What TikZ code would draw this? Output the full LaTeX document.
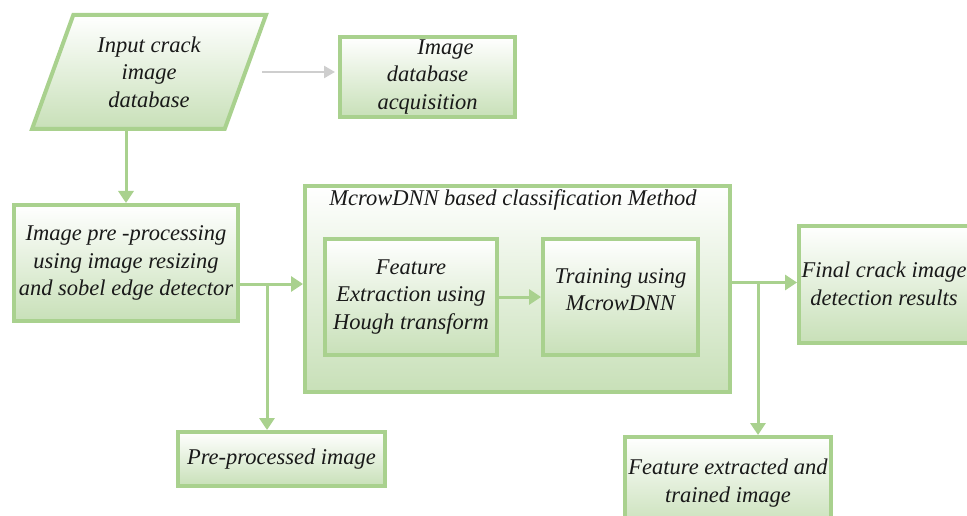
\documentclass[tikz,border=0pt]{standalone}
\usepackage{fontspec}
\setmainfont{Liberation Serif}
\usetikzlibrary{shapes.geometric,arrows.meta}

\definecolor{boxline}{RGB}{169,209,142}
\definecolor{boxfill}{RGB}{200,224,184}
\definecolor{grayline}{RGB}{206,206,206}
\definecolor{txt}{RGB}{25,25,25}

\tikzset{
  box/.style={draw=boxline, line width=4pt, top color=white, bottom color=boxfill,
    text=txt, align=center, inner sep=2pt,
    font=\fontsize{22.5}{27.5}\selectfont\itshape},
  arr/.style={draw=boxline, line width=3pt, -{Triangle[width=15pt,length=12pt]}},
  grayarr/.style={draw=grayline, line width=2.5pt, -{Triangle[width=12pt,length=11pt]}}
}

\begin{document}
\begin{tikzpicture}[x=1pt,y=-1pt]
\useasboundingbox (0,0) rectangle (967,516);

% top row
\node[box, trapezium, trapezium left angle=68.7, trapezium right angle=111.3,
  trapezium stretches=true, minimum width=234, minimum height=114]
  (input) at (149,72) {Input crack\\image\\database};
\node[box, minimum width=175, minimum height=80] (acq) at (427.5,77)
  {\hspace*{36pt}Image\\database\\acquisition};

% middle row
\node[box, minimum width=224, minimum height=116] (pre) at (126,263)
  {Image pre -processing\\using image resizing\\and sobel edge detector};
\node[box, minimum width=425, minimum height=206] (method) at (517.5,289) {};
\node[text=txt, font=\fontsize{22.5}{27.5}\selectfont\itshape] (title) at (513,200)
  {McrowDNN based classification Method};
\node[box, minimum width=172, minimum height=116] (fext) at (411,297)
  {Feature\\Extraction using\\Hough transform};
\node[box, minimum width=155, minimum height=116] (train) at (620.5,297)
  {Training using\\McrowDNN\\[-13pt]};
\node[box, minimum width=170, minimum height=117] (final) at (884,284)
  {Final crack image\\detection results};

% bottom row
\node[box, minimum width=207, minimum height=54] (preimg) at (281.5,459)
  {Pre-processed image};
\node[box, minimum width=206, minimum height=92] (feimg) at (728,483)
  {Feature extracted and\\trained image};

% connectors
\draw[grayarr, shorten >=3pt] ([xshift=15pt]input.east) -- (acq.west |- input.east);
\draw[arr] (pre.north |- input.south) -- (pre.north);
\draw[arr] ([yshift=5pt]method.west -| pre.east) -- ([yshift=5pt]method.west);
\draw[arr] (fext.east) -- (train.west);
\draw[arr] ([yshift=1.5pt]method.east |- final.west) -- ([yshift=1.5pt]final.west);

\coordinate (pj) at (267,283);
\coordinate (fj) at (758,283);
\draw[arr] (pj) -- (pj |- preimg.north);
\draw[arr] (fj) -- (fj |- feimg.north);
\end{tikzpicture}
\end{document}
